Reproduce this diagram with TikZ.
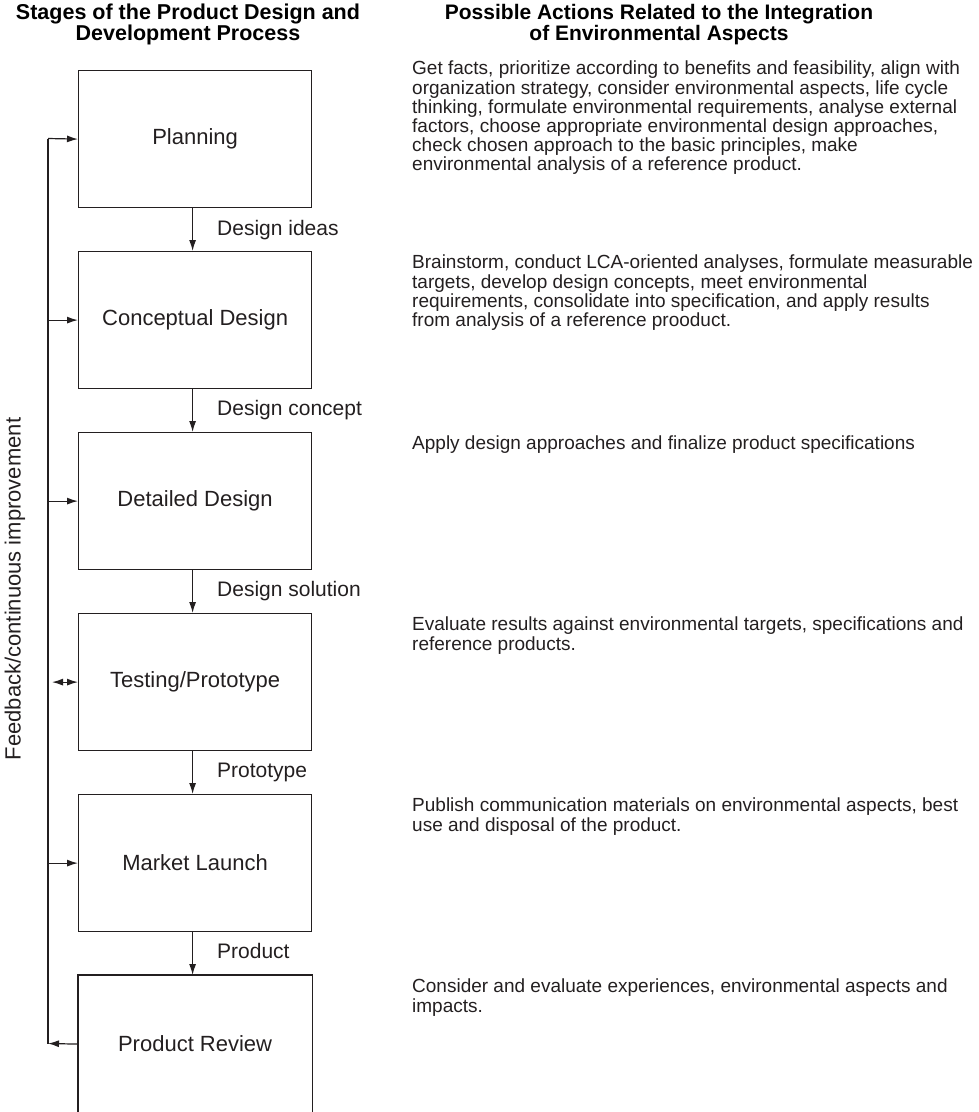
\documentclass[tikz,border=0pt]{standalone}
\usepackage{fontspec}
\setmainfont{Liberation Sans}
\usetikzlibrary{arrows.meta}
\definecolor{ink}{HTML}{231F20}

\begin{document}
\begin{tikzpicture}[x=1pt,y=-1pt,
  line/.style={draw=ink, line width=1.2pt},
  tip/.tip={Latex[length=11pt,width=7pt]},
  arr/.style={line, -tip},
  arrboth/.style={line, tip-tip},
  stage/.style={line, rectangle, minimum width=233pt, minimum height=137pt,
    inner sep=0pt, anchor=north west, text=ink, font=\fontsize{22}{26}\selectfont},
  flowlabel/.style={anchor=base west, inner sep=0pt, text=ink, font=\fontsize{21}{25}\selectfont},
  heading/.style={anchor=north, align=center, inner sep=0pt, text=black,
    font=\fontsize{21.5}{21}\selectfont\bfseries},
  action/.style={anchor=north west, align=left, inner sep=0pt, text=ink,
    font=\fontsize{19}{19.1}\selectfont}
]
\useasboundingbox (0,0) rectangle (979,1112);

% column headings
\node[heading] (hl) at (188,4) {Stages of the Product Design and\\Development Process};
\node[heading, font=\fontsize{21}{21}\selectfont\bfseries] (hr) at (659,4) {Possible Actions Related to the Integration\\of Environmental Aspects};

% process stages
\node[stage] (s1) at (78,70)  {Planning};
\node[stage] (s2) at (78,251) {Conceptual Design};
\node[stage] (s3) at (78,432) {Detailed Design};
\node[stage] (s4) at (78,613) {Testing/Prototype};
\node[stage] (s5) at (78,794) {Market Launch};
\node[stage, draw=none] (s6) at (78,975) {Product Review};
\draw[line] ([yshift=-12pt]s6.south west) -- (s6.north west) -- (s6.north east) -- ([yshift=-12pt]s6.south east);

% flow between stages
\draw[arr] ([xshift=-2.5pt]s1.south) -- ([xshift=-2.5pt]s2.north);
\draw[arr] ([xshift=-2.5pt]s2.south) -- ([xshift=-2.5pt]s3.north);
\draw[arr] ([xshift=-2.5pt]s3.south) -- ([xshift=-2.5pt]s4.north);
\draw[arr] ([xshift=-2.5pt]s4.south) -- ([xshift=-2.5pt]s5.north);
\draw[arr] ([xshift=-2.5pt]s5.south) -- ([xshift=-2.5pt]s6.north);

\node[flowlabel] (l1) at (217,235) {Design ideas};
\node[flowlabel] (l2) at (217,415) {Design concept};
\node[flowlabel] (l3) at (217,596) {Design solution};
\node[flowlabel] (l4) at (217,777) {Prototype};
\node[flowlabel] (l5) at (217,958) {Product};

% feedback loop
\coordinate (fbtop) at (48,138.5);
\coordinate (fbbot) at (48,1043.5);
\draw[line] (fbbot) -- (fbtop);
\draw[arr] (fbtop) -- (s1.west);
\draw[arr] (fbtop |- s2.west) -- (s2.west);
\draw[arr] (fbtop |- s3.west) -- (s3.west);
\draw[arrboth] ([xshift=4pt]fbtop |- s4.west) -- (s4.west);
\draw[arr] (fbtop |- s5.west) -- (s5.west);
\draw[arr] (s6.west) -- (fbbot);
\node[rotate=90, inner sep=0pt, text=ink, font=\fontsize{22}{26}\selectfont] (fb) at (15,589) {Feedback/continuous improvement};

% actions per stage
\node[action] (a1) at (412,61) {Get facts, prioritize according to benefits and feasibility, align with\\
organization strategy, consider environmental aspects, life cycle\\
thinking, formulate environmental requirements, analyse external\\
factors, choose appropriate environmental design approaches,\\
check chosen approach to the basic principles, make\\
environmental analysis of a reference product.};
\node[action] (a2) at (412,255) {Brainstorm, conduct LCA-oriented analyses, formulate measurable\\
targets, develop design concepts, meet environmental\\
requirements, consolidate into specification, and apply results\\
from analysis of a reference prooduct.};
\node[action] (a3) at (412,436) {Apply design approaches and finalize product specifications};
\node[action] (a4) at (412,617) {Evaluate results against environmental targets, specifications and\\
reference products.};
\node[action] (a5) at (412,798) {Publish communication materials on environmental aspects, best\\
use and disposal of the product.};
\node[action] (a6) at (412,979) {Consider and evaluate experiences, environmental aspects and\\
impacts.};
\end{tikzpicture}
\end{document}
